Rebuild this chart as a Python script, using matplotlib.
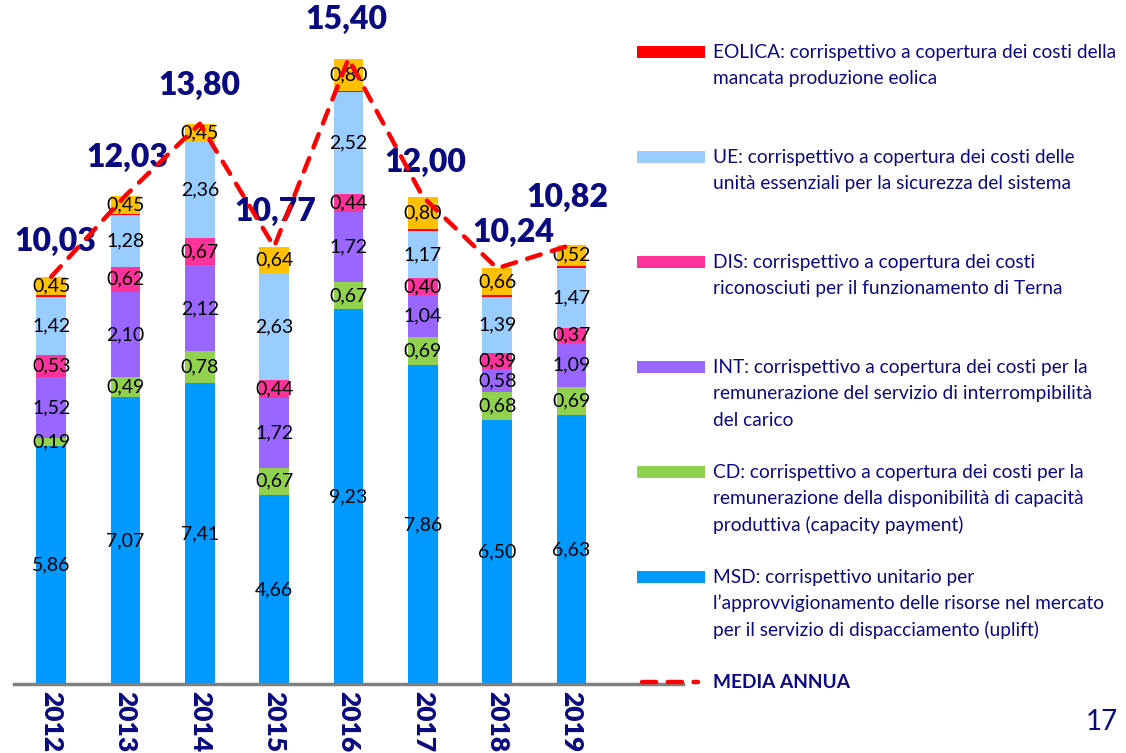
import numpy as np
import matplotlib
matplotlib.use("Agg")
from matplotlib import pyplot as plt
from matplotlib.patches import Rectangle

# data (values in the stacked order, bottom to top)
years = ['2012', '2013', '2014', '2015', '2016', '2017', '2018', '2019']
msd = [5.86, 7.07, 7.41, 4.66, 9.23, 7.86, 6.50, 6.63]
cd = [0.19, 0.49, 0.78, 0.67, 0.67, 0.69, 0.68, 0.69]
int_ = [1.52, 2.10, 2.12, 1.72, 1.72, 1.04, 0.58, 1.09]
dis = [0.53, 0.62, 0.67, 0.44, 0.44, 0.40, 0.39, 0.37]
ue = [1.42, 1.28, 2.36, 2.63, 2.52, 1.17, 1.39, 1.47]
eolica = [0.06, 0.02, 0.01, 0.01, 0.02, 0.04, 0.04, 0.05]
altro = [0.45, 0.45, 0.45, 0.64, 0.80, 0.80, 0.66, 0.52]
media = [10.03, 12.03, 13.80, 10.77, 15.40, 12.00, 10.24, 10.82]

legend_texts = [
    ["EOLICA: corrispettivo a copertura dei costi della",
     "mancata produzione eolica"],
    ["UE: corrispettivo a copertura dei costi delle",
     "unità essenziali per la sicurezza del sistema"],
    ["DIS: corrispettivo a copertura dei costi",
     "riconosciuti per il funzionamento di Terna"],
    ["INT: corrispettivo a copertura dei costi per la",
     "remunerazione del servizio di interrompibilità",
     "del carico"],
    ["CD: corrispettivo a copertura dei costi per la",
     "remunerazione della disponibilità di capacità",
     "produttiva (capacity payment)"],
    ["MSD: corrispettivo unitario per",
     "l\u2019approvvigionamento delle risorse nel mercato",
     "per il servizio di dispacciamento (uplift)"],
]

C_MSD = '#0099FF'
C_CD = '#92D050'
C_INT = '#9966FF'
C_DIS = '#FF3399'
C_UE = '#99CCFF'
C_EOL = '#FF0000'
C_ALT = '#FFC000'
NAVY = '#0A0A80'

plt.rcParams['font.family'] = ['Lato', 'DejaVu Sans']

W, H = 1126, 753
fig = plt.figure(figsize=(W / 100, H / 100), dpi=100)
ax = fig.add_axes([14 / W, 69 / H, (683 - 14) / W, 684 / H])

x = np.arange(len(years))
bw = 0.40
series = [(msd, C_MSD, True), (cd, C_CD, True), (int_, C_INT, True),
          (dis, C_DIS, True), (ue, C_UE, True), (eolica, C_EOL, False),
          (altro, C_ALT, True)]
bottom = np.zeros(len(years))
for vals, col, lab in series:
    vals = np.array(vals)
    ax.bar(x, vals, bw, bottom=bottom, color=col, linewidth=0)
    if lab:
        for xi, b, v in zip(x, bottom, vals):
            ax.text(xi, b + v / 2, f"{v:.2f}".replace('.', ','),
                    ha='center', va='center', fontsize=14, color='black')
    bottom = bottom + vals

# annual average line
ax.plot(x, media, color='red', lw=3.2, linestyle=(0, (3.2, 2.6)),
        dash_capstyle='round', zorder=5)

# total labels, nudged like in the original slide
offsets = [(4, 35), (2, 38), (0, 38), (1, 35), (-2, 39), (3, 34), (16, 36), (-4, 47)]
for xi, m, (dx, dy) in zip(x, media, offsets):
    ax.annotate(f"{m:.2f}".replace('.', ','), (xi, m), xytext=(dx, dy),
                textcoords='offset pixels', ha='center', va='center',
                fontsize=23, fontweight='heavy', color=NAVY)

ax.set_xlim(-0.5, 8.5)
ax.set_ylim(0, 684 / 40.6)
for s in ['top', 'right', 'left']:
    ax.spines[s].set_visible(False)
ax.spines['bottom'].set_color('#808080')
ax.spines['bottom'].set_linewidth(2.5)
ax.set_yticks([])
ax.set_xticks(x)
ax.set_xticklabels(years, rotation=-90, fontsize=19, fontweight='heavy',
                   color=NAVY, va='top', ha='center')
ax.tick_params(axis='x', length=0, pad=5)

# legend drawn by hand on a pixel-based overlay
lg = fig.add_axes([0, 0, 1, 1])
lg.set_xlim(0, W)
lg.set_ylim(H, 0)
lg.axis('off')
lg.patch.set_alpha(0)
leg_colors = [C_EOL, C_UE, C_DIS, C_INT, C_CD, C_MSD]
for i, (col, lines) in enumerate(zip(leg_colors, legend_texts)):
    y0 = 52 + 105 * i
    lg.add_patch(Rectangle((637, y0 - 6), 68, 12, color=col, lw=0))
    for k, t in enumerate(lines):
        lg.text(713, y0 + 26.5 * k, t, fontsize=13.8, color=NAVY,
                ha='left', va='center')
y0 = 52 + 105 * 6
lg.plot([642, 698], [y0, y0], color='red', lw=3.2,
        linestyle=(0, (3.2, 2.6)), dash_capstyle='round')
lg.text(713, y0, "MEDIA ANNUA", fontsize=13.8, fontweight='bold',
        color=NAVY, ha='left', va='center')
lg.text(1118, 722, "17", fontsize=20, color=NAVY, ha='right', va='center')

fig.savefig("out.png", dpi=100)
